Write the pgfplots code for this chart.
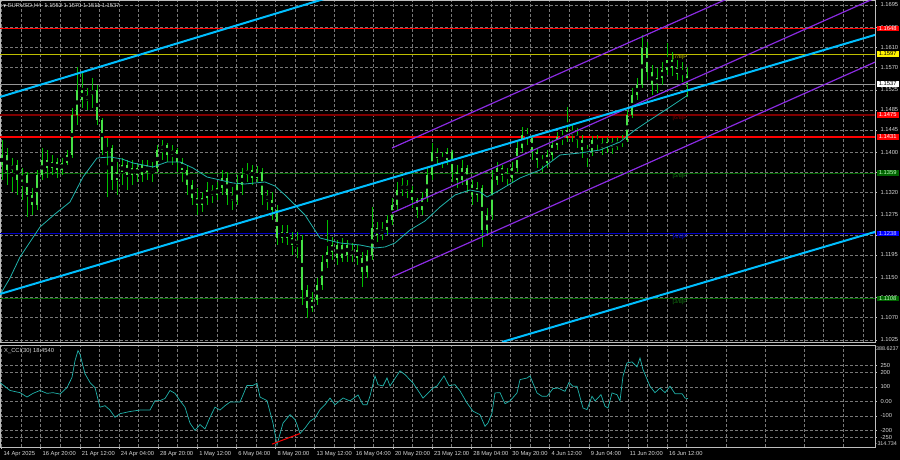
\documentclass[border=0pt]{standalone}
\usepackage{fontspec}
\setmainfont{Liberation Sans}
\newfontfamily\symfont{DejaVu Sans}
\usepackage{pgfplots}
\usepackage{pgfplotstable}
\pgfplotsset{compat=1.18}

\definecolor{mtgrid}{RGB}{120,120,120}
\definecolor{mtprice}{RGB}{150,150,150}
\definecolor{mtframe}{RGB}{190,190,190}
\definecolor{mttext}{RGB}{215,215,215}
\definecolor{wick}{RGB}{0,190,0}
\definecolor{body}{RGB}{70,225,70}
\definecolor{maline}{RGB}{32,178,170}
\definecolor{trend}{RGB}{0,191,255}
\definecolor{chan}{RGB}{138,43,226}
\definecolor{lvred}{RGB}{255,0,0}
\definecolor{lvdred}{RGB}{128,0,0}
\definecolor{lvyel}{RGB}{190,190,0}
\definecolor{lvgreen}{RGB}{0,100,0}
\definecolor{lvtxtgreen}{RGB}{20,130,20}
\definecolor{lvblue}{RGB}{0,0,200}

% EURUSD H4 candles: x position, open, high, low, close
\pgfplotstableread{
x o h l c
2 1.1375 1.1425 1.1345 1.1395
7 1.1395 1.1409 1.1335 1.1365
12 1.1365 1.1389 1.1321 1.1375
17 1.1375 1.1385 1.1315 1.1345
22 1.1345 1.1369 1.1305 1.1355
27 1.1355 1.1361 1.1271 1.1315
32 1.1315 1.1329 1.1275 1.1295
37 1.1295 1.1365 1.1285 1.1355
42 1.1355 1.1409 1.1345 1.1385
47 1.1385 1.1405 1.1349 1.1369
52 1.1369 1.1395 1.1355 1.1381
57 1.1381 1.1389 1.1349 1.1365
62 1.1365 1.1389 1.1355 1.1379
67 1.1379 1.1405 1.1375 1.1395
72 1.1395 1.1489 1.1389 1.1475
77 1.1475 1.1571 1.1455 1.1525
82 1.1525 1.1561 1.1489 1.1505
87 1.1505 1.1529 1.1485 1.1515
92 1.1515 1.1549 1.1489 1.1525
97 1.1525 1.1535 1.1455 1.1465
102 1.1465 1.1469 1.1395 1.1405
107 1.1405 1.1429 1.1311 1.1409
112 1.1409 1.1415 1.1325 1.1345
117 1.1345 1.1381 1.1315 1.1361
122 1.1361 1.1389 1.1335 1.1375
127 1.1375 1.1385 1.1325 1.1355
132 1.1355 1.1385 1.1335 1.1369
137 1.1369 1.1379 1.1341 1.1355
142 1.1355 1.1385 1.1341 1.1375
147 1.1375 1.1385 1.1345 1.1361
152 1.1361 1.1381 1.1341 1.1369
157 1.1369 1.1415 1.1361 1.1405
162 1.1405 1.1425 1.1385 1.1415
167 1.1415 1.1419 1.1381 1.1395
172 1.1395 1.1415 1.1375 1.1405
177 1.1405 1.1409 1.1361 1.1381
182 1.1381 1.1389 1.1341 1.1365
187 1.1365 1.1375 1.1315 1.1335
192 1.1335 1.1345 1.1295 1.1309
197 1.1309 1.1329 1.1275 1.1295
202 1.1295 1.1321 1.1281 1.1309
207 1.1309 1.1341 1.1295 1.1325
212 1.1325 1.1335 1.1299 1.1315
217 1.1315 1.1341 1.1305 1.1329
222 1.1329 1.1365 1.1315 1.1349
227 1.1349 1.1361 1.1295 1.1315
232 1.1315 1.1331 1.1285 1.1305
237 1.1305 1.1355 1.1295 1.1335
242 1.1335 1.1369 1.1315 1.1355
247 1.1355 1.1379 1.1341 1.1365
252 1.1365 1.1375 1.1335 1.1349
257 1.1349 1.1373 1.1341 1.1361
262 1.1361 1.1369 1.1295 1.1315
267 1.1315 1.1325 1.1285 1.1305
272 1.1305 1.1321 1.1265 1.1285
277 1.1285 1.1295 1.1215 1.1229
282 1.1229 1.1255 1.1219 1.1241
287 1.1241 1.1255 1.1215 1.1229
292 1.1229 1.1241 1.1195 1.1215
297 1.1215 1.1241 1.1189 1.1225
302 1.1225 1.1235 1.1095 1.1125
307 1.1125 1.1135 1.1069 1.1089
312 1.1089 1.1121 1.1081 1.1105
317 1.1105 1.1149 1.1095 1.1135
322 1.1135 1.1195 1.1125 1.1181
327 1.1181 1.1265 1.1169 1.1201
332 1.1201 1.1231 1.1185 1.1215
337 1.1215 1.1225 1.1175 1.1189
342 1.1189 1.1229 1.1181 1.1215
347 1.1215 1.1225 1.1181 1.1195
352 1.1195 1.1219 1.1181 1.1205
357 1.1205 1.1215 1.1175 1.1189
362 1.1189 1.1201 1.1131 1.1161
367 1.1161 1.1205 1.1149 1.1195
372 1.1195 1.1291 1.1185 1.1249
377 1.1249 1.1261 1.1221 1.1235
382 1.1235 1.1261 1.1225 1.1245
387 1.1245 1.1275 1.1235 1.1265
392 1.1265 1.1309 1.1255 1.1295
397 1.1295 1.1341 1.1285 1.1325
402 1.1325 1.1349 1.1313 1.1335
407 1.1335 1.1345 1.1309 1.1325
412 1.1325 1.1333 1.1289 1.1305
417 1.1305 1.1309 1.1269 1.1285
422 1.1285 1.1321 1.1275 1.1309
427 1.1309 1.1369 1.1301 1.1355
432 1.1355 1.1419 1.1345 1.1401
437 1.1401 1.1409 1.1375 1.1389
442 1.1389 1.1401 1.1369 1.1385
447 1.1385 1.1409 1.1375 1.1401
452 1.1401 1.1405 1.1341 1.1361
457 1.1361 1.1375 1.1329 1.1345
462 1.1345 1.1385 1.1335 1.1369
467 1.1369 1.1375 1.1321 1.1335
472 1.1335 1.1345 1.1295 1.1315
477 1.1315 1.1341 1.1301 1.1329
482 1.1329 1.1335 1.1211 1.1245
487 1.1245 1.1289 1.1235 1.1275
492 1.1275 1.1365 1.1265 1.1345
497 1.1345 1.1381 1.1335 1.1369
502 1.1369 1.1375 1.1341 1.1355
507 1.1355 1.1369 1.1335 1.1349
512 1.1349 1.1381 1.1341 1.1369
517 1.1369 1.1421 1.1361 1.1409
522 1.1409 1.1451 1.1401 1.1435
527 1.1435 1.1449 1.1415 1.1429
532 1.1429 1.1435 1.1385 1.1401
537 1.1401 1.1409 1.1369 1.1385
542 1.1385 1.1395 1.1361 1.1379
547 1.1379 1.1405 1.1369 1.1395
552 1.1395 1.1425 1.1385 1.1415
557 1.1415 1.1441 1.1405 1.1431
562 1.1431 1.1445 1.1415 1.1429
567 1.1429 1.1491 1.1421 1.1445
572 1.1445 1.1455 1.1421 1.1435
577 1.1435 1.1449 1.1409 1.1425
582 1.1425 1.1435 1.1389 1.1405
587 1.1405 1.1415 1.1371 1.1401
592 1.1401 1.1433 1.1393 1.1425
597 1.1425 1.1435 1.1405 1.1419
602 1.1419 1.1429 1.1395 1.1409
607 1.1409 1.1431 1.1399 1.1421
612 1.1421 1.1429 1.1397 1.1411
617 1.1411 1.1431 1.1405 1.1421
622 1.1421 1.1435 1.1411 1.1425
627 1.1425 1.1485 1.1421 1.1475
632 1.1475 1.1529 1.1469 1.1515
637 1.1515 1.1549 1.1505 1.1535
642 1.1535 1.1635 1.1529 1.1609
647 1.1609 1.1621 1.1545 1.1561
652 1.1561 1.1575 1.1515 1.1535
657 1.1535 1.1569 1.1519 1.1549
662 1.1549 1.1581 1.1535 1.1565
667 1.1565 1.1619 1.1555 1.1585
672 1.1585 1.1601 1.1553 1.1569
677 1.1569 1.1585 1.1545 1.1557
682 1.1557 1.1581 1.1541 1.1561
687 1.1552 1.1570 1.1511 1.1537
}\candles

% moving average
\pgfplotstableread{
x y
0 1.1115
10 1.1149
20 1.1191
30 1.1221
40 1.1251
55 1.1277
70 1.1301
83 1.1351
97 1.1389
110 1.1391
122 1.1387
133 1.1379
153 1.1371
167 1.1381
180 1.1381
193 1.1369
207 1.1351
220 1.1345
233 1.1339
245 1.1337
255 1.1339
265 1.1341
275 1.1333
285 1.1315
295 1.1295
305 1.1275
320 1.1229
340 1.1219
360 1.1215
375 1.1209
385 1.1211
395 1.1219
410 1.1245
425 1.1263
440 1.1291
455 1.1315
470 1.1325
480 1.1321
487 1.1311
500 1.1325
520 1.1349
540 1.1365
560 1.1395
580 1.1399
600 1.1405
620 1.1421
635 1.1445
650 1.1465
670 1.1491
688 1.1515
}\ma

% CCI(30)
\pgfplotstableread{
x y
0 130
10 75
20 60
27 30
33 55
40 75
47 55
53 60
60 50
67 95
72 165
75 280
78 350
80 325
85 190
90 130
95 95
100 -40
105 -30
110 -60
115 -110
120 -85
130 -70
140 -60
150 -60
155 5
160 5
165 20
170 75
175 55
180 5
185 -40
190 -150
195 -200
200 -160
205 -190
210 -110
215 -40
220 -60
225 -30
230 -5
240 -5
247 110
253 110
257 125
260 30
267 5
273 -150
277 -300
283 -150
290 -92
295 -126
297 -160
300 -222
305 -184
310 -137
315 -115
320 -57
325 -23
330 23
335 -23
343 23
350 3
358 44
363 -23
367 -23
370 37
375 175
378 115
383 106
387 161
390 106
400 210
405 184
413 127
423 23
433 92
437 106
444 175
449 108
455 115
460 72
467 -11
473 -68
480 -92
485 -172
488 -149
492 -80
495 58
500 60
505 -16
510 3
517 58
520 150
527 161
530 175
537 58
542 35
547 35
553 88
558 92
565 69
569 131
573 104
577 104
583 -46
587 -57
592 35
595 3
601 46
605 -34
608 -46
612 58
617 46
620 3
623 175
627 265
632 272
637 237
640 299
643 219
650 104
655 60
660 92
665 60
670 104
675 53
682 53
685 23
688 18.454
}\cci

\pgfplotsset{
  mt/.style={
    scale only axis, anchor=south west, width=875bp,
    xmin=0, xmax=875,
    axis background/.style={fill=black},
    axis line style={mtframe, line width=0.7bp},
    grid style={mtgrid, line width=0.5bp, dash pattern=on 2.5bp off 2.5bp},
    minor grid style={mtgrid, line width=0.5bp, dash pattern=on 2.5bp off 2.5bp},
    ytick pos=right, yticklabel pos=right, xtick pos=bottom,
    tick align=outside, major tick length=2bp, minor tick length=0bp,
    tick style={mtframe, line width=0.5bp},
    ticklabel style={font=\fontsize{5.8}{6}\selectfont, text=mttext},
    /pgf/number format/assume math mode=true,
    clip mode=individual,
  },
}
\tikzset{
  lvbox/.style={anchor=west, xshift=1.5bp, inner xsep=1bp, inner ysep=0.8bp,
    minimum width=22bp, font=\fontsize{5.8}{6}\selectfont},
  lvtag/.style={anchor=north west, inner sep=0.5bp, font=\fontsize{5.5}{6}\selectfont},
}

\begin{document}
\begin{tikzpicture}
\useasboundingbox (0,0) rectangle (900bp,460bp);
\fill[black] (0,0) rectangle (900bp,460bp);

\begin{axis}[mt,
  at={(0bp,118bp)}, height=342bp,
  ymin=1.1021, ymax=1.1705,
  xtick={1.5,21.075,...,870}, xticklabels={}, major x tick style={draw=none},
  ytick={1.1025,1.1070,1.1110,1.1150,1.1195,1.1235,1.1275,1.1320,1.1360,1.1400,1.1445,1.1485,1.1525,1.1570,1.1610,1.1650,1.1695},
  yticklabel style={/pgf/number format/fixed, /pgf/number format/fixed zerofill, /pgf/number format/precision=4},
  grid=major,
]
% horizontal levels
\addplot[lvgreen, line width=0.8bp] coordinates {(0,1.1108) (875,1.1108)};
\addplot[lvblue, line width=0.8bp] coordinates {(0,1.1238) (875,1.1238)};
\addplot[lvgreen, line width=0.8bp] coordinates {(0,1.1359) (875,1.1359)};
\addplot[lvred, line width=1.8bp] coordinates {(0,1.1431) (875,1.1431)};
\addplot[lvdred, line width=1.8bp] coordinates {(0,1.1475) (875,1.1475)};
\addplot[mtprice, line width=0.7bp] coordinates {(0,1.1537) (875,1.1537)};
\addplot[lvyel, line width=0.8bp] coordinates {(0,1.1597) (875,1.1597)};
\addplot[lvred, line width=1.8bp] coordinates {(0,1.1648) (875,1.1648)};
% candles: wicks then bodies
\addplot[only marks, mark=none, error bars/.cd, y dir=both, y explicit, error mark=none,
  error bar style={wick, line width=0.8bp}]
  table[x=x, y expr={0.5*(\thisrow{h}+\thisrow{l})}, y error expr={0.5*(\thisrow{h}-\thisrow{l})}] {\candles};
\addplot[only marks, mark=none, error bars/.cd, y dir=both, y explicit, error mark=none,
  error bar style={body, line width=2.6bp}]
  table[x=x, y expr={0.5*(\thisrow{o}+\thisrow{c})}, y error expr={0.5*abs(\thisrow{o}-\thisrow{c})}] {\candles};
% moving average
\addplot[maline, line width=0.8bp] table[x=x, y=y] {\ma};
% channel
\addplot[chan, line width=1.2bp] coordinates {(392,1.1409) (900,1.1861)};
\addplot[chan, line width=1.2bp] coordinates {(392,1.1279) (900,1.1731)};
\addplot[chan, line width=1.2bp] coordinates {(392,1.1151) (900,1.1603)};
% trend lines
\addplot[trend, line width=2bp] coordinates {(0,1.1511) (400,1.1753)};
\addplot[trend, line width=2bp] coordinates {(0,1.1117) (900,1.1650)};
\addplot[trend, line width=2bp] coordinates {(502,1.1021) (900,1.1256)};

\node[lvtag, text=lvyel] at (axis cs:672,1.1597) {[7/8]P};
\node[lvtag, text=lvdred] at (axis cs:672,1.1475) {[6/8]P};
\node[lvtag, text=lvtxtgreen] at (axis cs:672,1.1359) {[5/8]P};
\node[lvtag, text=blue] at (axis cs:672,1.1238) {[4/8]P};
\node[lvtag, text=lvtxtgreen] at (axis cs:672,1.1108) {[3/8]P};

\node[lvbox, fill=lvred, text=white] at (axis cs:875,1.1648) {1.1648};
\node[lvbox, fill=yellow, text=black] at (axis cs:875,1.1597) {1.1597};
\node[lvbox, fill=white, text=black] at (axis cs:875,1.1537) {1.1537};
\node[lvbox, fill=lvred, text=white] at (axis cs:875,1.1475) {1.1475};
\node[lvbox, fill=lvred, text=white] at (axis cs:875,1.1431) {1.1431};
\node[lvbox, fill=lvgreen, text=white!75!green] at (axis cs:875,1.1359) {1.1359};
\node[lvbox, fill=blue, text=white!80!blue] at (axis cs:875,1.1238) {1.1238};
\node[lvbox, fill=lvgreen, text=white!75!green] at (axis cs:875,1.1108) {1.1108};

\node[anchor=north west, inner sep=0pt, text=mttext, font=\fontsize{5.8}{6}\selectfont]
  at ([xshift=3bp,yshift=-3bp]rel axis cs:0,1) {{\symfont\fontsize{4}{4}\selectfont ▼}\ EURUSD,H4\ \ 1.1552 1.1570 1.1511 1.1537};
\end{axis}

\begin{axis}[mt,
  at={(0bp,13bp)}, height=102bp,
  ymin=-314.734, ymax=388.6237,
  xtick={1.5,40.65,...,668},
  xticklabels={14 Apr 2025,16 Apr 20:00,21 Apr 12:00,24 Apr 04:00,28 Apr 20:00,1 May 12:00,6 May 04:00,8 May 20:00,13 May 12:00,16 May 04:00,20 May 20:00,23 May 12:00,28 May 04:00,30 May 20:00,4 Jun 12:00,9 Jun 04:00,11 Jun 20:00,16 Jun 12:00},
  minor xtick={21.075,60.225,...,870},
  xticklabel style={anchor=north west, xshift=-1.5bp, yshift=1bp},
  ytick={-250,-200,-100,0,100,200,250},
  yticklabels={-250,-200,-100,0.00,100,200,250},
  grid=both,
]
\addplot[maline, line width=0.7bp] table[x=x, y=y] {\cci};
\addplot[lvred, line width=1bp] coordinates {(272,-295) (300,-222)};
\node[anchor=north west, inner sep=0pt, text=mttext, font=\fontsize{5.8}{6}\selectfont]
  at ([xshift=4bp,yshift=-3bp]rel axis cs:0,1) {X\_CCI(30) 18.4540};
\node[anchor=north west, inner sep=0pt, text=mttext, font=\fontsize{5.4}{6}\selectfont]
  at ([xshift=1bp,yshift=-1.5bp]rel axis cs:1,1) {388.6237};
\node[anchor=south west, inner sep=0pt, text=mttext, font=\fontsize{5.4}{6}\selectfont]
  at ([xshift=0.5bp,yshift=1.5bp]rel axis cs:1,0) {-314.734};
\end{axis}
\end{tikzpicture}
\end{document}
